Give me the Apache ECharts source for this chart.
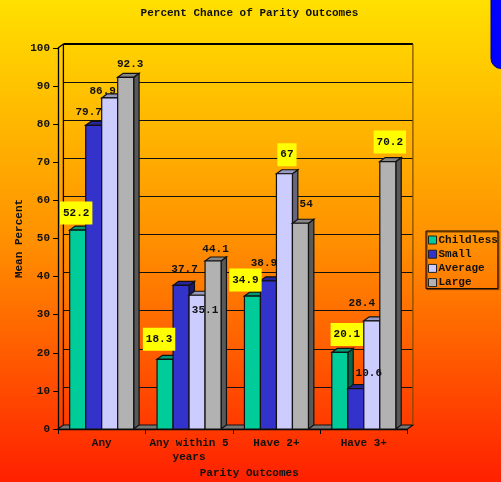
<!DOCTYPE html>
<html><head><meta charset="utf-8">
<style>html,body{margin:0;padding:0;background:#ff9000}#c{width:501px;height:482px}</style>
<script src="https://cdn.jsdelivr.net/npm/echarts@6/dist/echarts.min.js"></script>
</head><body><div id="c"></div>
<script>
const categories = ['Any', 'Any within 5\nyears', 'Have 2+', 'Have 3+'];
const seriesNames = ['Childless', 'Small', 'Average', 'Large'];
const childless = [52.2, 18.3, 34.9, 20.1];
const small = [79.7, 37.7, 38.9, 10.6];
const average = [86.9, 35.1, 67, 28.4];
const large = [92.3, 44.1, 54, 70.2];
const seriesValues = [childless, small, average, large];
const highlighted = [[1,1,1,1],[0,0,0,0],[0,0,1,0],[0,0,0,1]];

// layout and styling, kept apart from the data
const FONT = '"Liberation Mono","Courier New",monospace';
const DEPTH_X = 5.4, DEPTH_Y = 4, BAR_W = 16;
const faces = [
  {front:'#00CC99', top:'#009973', side:'#006B50'},
  {front:'#3333CC', top:'#262699', side:'#1A1A66'},
  {front:'#CCCCFF', top:'#9999BF', side:'#666680'},
  {front:'#B2B2B2', top:'#868686', side:'#595959'}
];
const labelNudge = [
  [[-1.5,-17],[-6,-20],[-7,-16],[7,-18]],
  [[-5,-13],[3.5,-16],[-4.5,-18],[13,-15]],
  [[-7,-7],[8,15],[2.5,-19],[-10,-17.5]],
  [[4.5,-13],[2.5,-12],[5.7,-19],[2,-19.5]]
];

const EDGE = {stroke:'#111', lineWidth:1.2};
function poly(points, fill, extra){
  return {type:'polygon', shape:{points}, style:Object.assign({fill}, EDGE, extra||{})};
}
function barItem(s){
  return function(params, api){
    const cat = api.value(0), val = api.value(1);
    const base = api.coord([cat, 0]), top = api.coord([cat, val]);
    const x0 = base[0] + (s - 2) * BAR_W, x1 = x0 + BAR_W;
    const y0 = top[1], y1 = base[1];
    return {type:'group', children:[
      poly([[x1,y0],[x1+DEPTH_X,y0-DEPTH_Y],[x1+DEPTH_X,y1-DEPTH_Y],[x1,y1]], faces[s].side),
      poly([[x0,y0],[x0+DEPTH_X,y0-DEPTH_Y],[x1+DEPTH_X,y0-DEPTH_Y],[x1,y0]], faces[s].top),
      poly([[x0,y0],[x1,y0],[x1,y1],[x0,y1]], faces[s].front)
    ]};
  };
}
function labelItem(params, api){
  const s = api.value(0), cat = api.value(1), val = api.value(2);
  const base = api.coord([cat, 0]), top = api.coord([cat, val]);
  const cx = base[0] + (s - 1.5) * BAR_W + labelNudge[s][cat][0];
  const cy = top[1] + labelNudge[s][cat][1];
  const on = highlighted[s][cat];
  return {type:'text', x:cx, y:cy, style:{
    text:String(val), fill:'#111', font:'bold 11px '+FONT, align:'center', verticalAlign:'middle',
    backgroundColor: on ? '#FFFF00' : 'transparent',
    padding: on ? [6,3,6,3] : 0
  }};
}
function frameItem(params, api){
  const c = params.coordSys;
  const L=c.x, R=c.x+c.width, T=c.y, B=c.y+c.height, dx=DEPTH_X, dy=DEPTH_Y;
  const line = (x1,y1,x2,y2,stroke,w)=>({type:'line', shape:{x1,y1,x2,y2}, style:{stroke,lineWidth:w}});
  return {type:'group', children:[
    poly([[L,B],[R,B],[R+dx,B-dy],[L+dx,B-dy]], '#777777'),
    line(L+dx,T-dy,L+dx,B-dy,'#000',1.3),
    line(L,T,L+dx,T-dy,'#000',1.3),
    line(L+dx,T-dy,R+dx,T-dy,'#000',2),
    line(R+dx,T-dy,R+dx,B-dy,'#7a4a00',1.2)
  ]};
}

const chart = echarts.init(document.getElementById('c'), null, {renderer:'canvas'});
const labelData = [];
seriesValues.forEach((vals,s)=>vals.forEach((v,c)=>labelData.push([s,c,v])));

const txt = {fontFamily:FONT, fontWeight:'bold', fontSize:11, color:'#111'};
const axisBlack = {lineStyle:{color:'#000', width:1.3}};

chart.setOption({
  animation:false,
  backgroundColor:{type:'linear', x:0, y:0, x2:0, y2:1, colorStops:[
    {offset:0,color:'#FFE000'},{offset:0.5,color:'#FF9000'},{offset:1,color:'#FF2000'}]},
  title:{text:'Percent Chance of Parity Outcomes', left:249.5, top:8, padding:0, textAlign:'center',
    textStyle:Object.assign({},txt)},
  legend:{orient:'vertical', left:426, top:231, padding:[3,0,0,2], itemGap:2.2,
    itemWidth:8, itemHeight:8, icon:'rect', borderColor:'#000', borderWidth:1,
    shadowColor:'rgba(90,40,0,0.8)', shadowOffsetX:1, shadowOffsetY:1, shadowBlur:0,
    itemStyle:{borderColor:'#222', borderWidth:1},
    textStyle:Object.assign({},txt,{padding:[0,0,0,-3], lineHeight:12}), data:seriesNames},
  graphic:[{type:'rect', left:490.5, top:-12, z:50, shape:{width:24,height:80,r:10},
    style:{fill:'#0000FF', stroke:'#000088', lineWidth:1}}],
  grid:[
    {left:58, top:48, width:349.5, height:381, outerBoundsMode:'none'},
    {left:58+DEPTH_X, top:48-DEPTH_Y, width:349.5, height:381, outerBoundsMode:'none'}
  ],
  xAxis:[
    {type:'category', data:categories, gridIndex:0,
      name:'Parity Outcomes', nameLocation:'middle', nameGap:39, nameMoveOverlap:false,
      nameTextStyle:Object.assign({},txt,{padding:[0,0,0,33]}),
      axisLine:axisBlack, axisTick:{show:true,length:5,alignWithLabel:false,lineStyle:{color:'#000',width:1}},
      axisLabel:Object.assign({},txt,{margin:7.5,lineHeight:14,interval:0}), splitLine:{show:false}},
    {type:'category', data:categories, gridIndex:1, show:false}
  ],
  yAxis:[
    {type:'value', min:0, max:100, interval:10, gridIndex:0,
      name:'Mean Percent', nameLocation:'middle', nameGap:33, nameMoveOverlap:false,
      nameTextStyle:Object.assign({},txt),
      axisLine:Object.assign({show:true},axisBlack), axisTick:{show:true,length:5,lineStyle:{color:'#000',width:1}},
      axisLabel:Object.assign({},txt,{margin:8}), splitLine:{show:false}},
    {type:'value', min:0, max:100, interval:10, gridIndex:1,
      axisLine:{show:false}, axisTick:{show:false}, axisLabel:{show:false},
      splitLine:{show:true,lineStyle:{color:'#111',width:1,type:'solid'}}}
  ],
  series:[
    {type:'custom', name:'frame', xAxisIndex:0, yAxisIndex:0, z:1, silent:true,
      renderItem:frameItem, data:[[0,0]], clip:false}
  ].concat(seriesNames.map((name,s)=>({
    type:'custom', name, xAxisIndex:0, yAxisIndex:0, z:2+s,
    itemStyle:{color:faces[s].front},
    renderItem:barItem(s), encode:{x:0,y:1},
    data:seriesValues[s].map((v,c)=>[c,v]), clip:false
  }))).concat([
    {type:'custom', name:'values', xAxisIndex:0, yAxisIndex:0, z:20, silent:true,
      renderItem:labelItem, data:labelData, encode:{x:1,y:2}, clip:false}
  ])
});
</script></body></html>
